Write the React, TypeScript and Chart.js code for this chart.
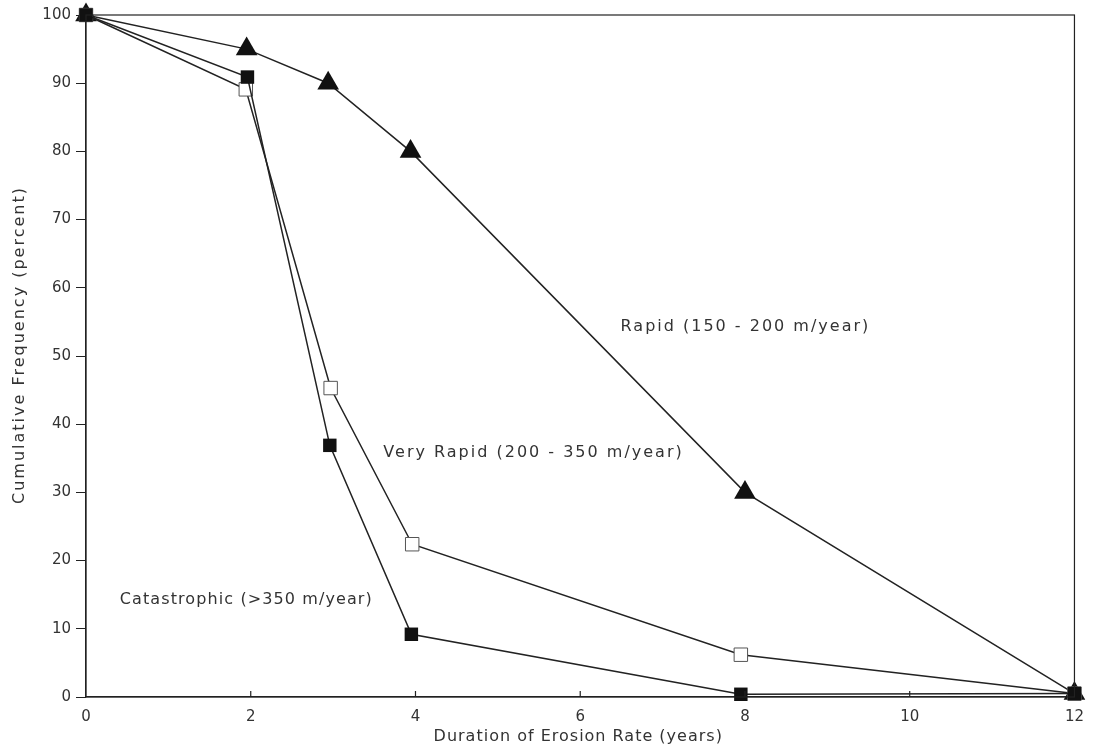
import React, { useEffect, useRef } from "react";
import { Chart, registerables } from "chart.js";

Chart.register(...registerables);

const xTicks = [0, 2, 4, 6, 8, 10, 12];
const yTicks = [0, 10, 20, 30, 40, 50, 60, 70, 80, 90, 100];

const catX = [0, 1.96, 2.96, 3.95, 7.95, 12];
const catY = [100, 90.9, 36.9, 9.2, 0.4, 0.5];

const veryX = [0, 1.94, 2.97, 3.96, 7.95, 12];
const veryY = [100, 89.1, 45.3, 22.4, 6.2, 0.5];

const rapidX = [0, 1.95, 2.94, 3.94, 8, 12];
const rapidY = [100, 95, 90, 80, 30, 0.5];

const labelTexts = ["Rapid (150 - 200 m/year)", "Very Rapid (200 - 350 m/year)", "Catastrophic (>350 m/year)"];
const labelX = [6.49, 3.61, 0.41];
const labelY = [54.3, 35.8, 14.2];

const labelSpacing = ["2px", "2px", "1.1px"];

const xTitle = "Duration of Erosion Rate (years)";
const yTitle = "Cumulative Frequency (percent)";

const INK = "#222222";
const TEXT = "#333333";
const FONT = "'DejaVu Sans', sans-serif";

const pts = (xs: number[], ys: number[]) => xs.map((x, i) => ({ x, y: ys[i] }));

const framePlugin = {
  id: "frame",
  afterDraw(chart: any) {
    const { ctx, chartArea } = chart;
    const xs = chart.scales.x;
    const ys = chart.scales.y;
    ctx.save();
    ctx.strokeStyle = INK;
    ctx.lineWidth = 1.2;
    ctx.strokeRect(chartArea.left, chartArea.top, chartArea.right - chartArea.left, chartArea.bottom - chartArea.top);
    ctx.beginPath();
    xTicks.forEach((v) => {
      if (v === 0 || v === 12) return;
      const px = xs.getPixelForValue(v);
      ctx.moveTo(px, chartArea.bottom);
      ctx.lineTo(px, chartArea.bottom - 6);
    });
    ctx.stroke();

    ctx.fillStyle = TEXT;
    ctx.font = `16px ${FONT}`;
    ctx.textAlign = "left";
    ctx.textBaseline = "middle";
    labelTexts.forEach((t, i) => {
      (ctx as any).letterSpacing = labelSpacing[i];
      ctx.fillText(t, xs.getPixelForValue(labelX[i]), ys.getPixelForValue(labelY[i]));
    });

    (ctx as any).letterSpacing = "1px";
    ctx.textAlign = "center";
    ctx.fillText(xTitle, (chartArea.left + chartArea.right) / 2 - 2, 737);
    ctx.save();
    ctx.translate(20, 345);
    ctx.rotate(-Math.PI / 2);
    (ctx as any).letterSpacing = "2px";
    ctx.fillText(yTitle, 0, 0);
    ctx.restore();
    ctx.restore();
  },
};

export default function App() {
  const ref = useRef<HTMLCanvasElement | null>(null);
  useEffect(() => {
    document.body.style.margin = "0";
    const chart = new Chart(ref.current as HTMLCanvasElement, {
      type: "line",
      data: {
        datasets: [
          {
            label: "Catastrophic",
            data: pts(catX, catY),
            borderColor: INK,
            borderWidth: 1.5,
            pointStyle: "rect",
            pointRadius: 9.5,
            pointBackgroundColor: "#111111",
            pointBorderColor: "#111111",
            pointBorderWidth: 0,
            clip: false,
          } as any,
          {
            label: "Very Rapid",
            data: pts(veryX, veryY),
            borderColor: INK,
            borderWidth: 1.5,
            pointStyle: "rect",
            pointRadius: 9.5,
            pointBackgroundColor: "#ffffff",
            pointBorderColor: "#555555",
            pointBorderWidth: 1,
            clip: false,
          } as any,
          {
            label: "Rapid",
            data: pts(rapidX, rapidY),
            borderColor: INK,
            borderWidth: 1.5,
            pointStyle: "triangle",
            pointRadius: 12.5,
            pointBackgroundColor: "#111111",
            pointBorderColor: "#111111",
            pointBorderWidth: 0,
            clip: false,
          } as any,
        ],
      },
      options: {
        animation: false,
        responsive: false,
        devicePixelRatio: 1,
        layout: { padding: { top: 15, right: 18, left: 0, bottom: 0 } },
        plugins: { legend: { display: false }, tooltip: { enabled: false } },
        scales: {
          x: {
            type: "linear",
            min: 0,
            max: 12,
            afterBuildTicks: (s: any) => {
              s.ticks = xTicks.map((v) => ({ value: v }));
            },
            afterFit: (s: any) => {
              s.height = 54;
            },
            ticks: { color: TEXT, font: { family: FONT, size: 15 }, padding: 11 },
            grid: { drawOnChartArea: false, drawTicks: false },
            border: { color: INK, width: 1.2 },
            title: { display: false },
          },
          y: {
            type: "linear",
            min: 0,
            max: 100,
            afterBuildTicks: (s: any) => {
              s.ticks = yTicks.map((v) => ({ value: v }));
            },
            afterFit: (s: any) => {
              s.width = 86;
            },
            ticks: { color: TEXT, font: { family: FONT, size: 15 }, padding: 5 },
            grid: { drawOnChartArea: false, drawTicks: true, tickLength: 10, color: INK },
            border: { color: INK, width: 1.2 },
            title: { display: false },
          },
        },
      },
      plugins: [framePlugin],
    } as any);
    return () => chart.destroy();
  }, []);
  return (
    <div style={{ position: "relative", width: 1095, height: 751 }}>
      <canvas ref={ref} width={1095} height={751} />
    </div>
  );
}
